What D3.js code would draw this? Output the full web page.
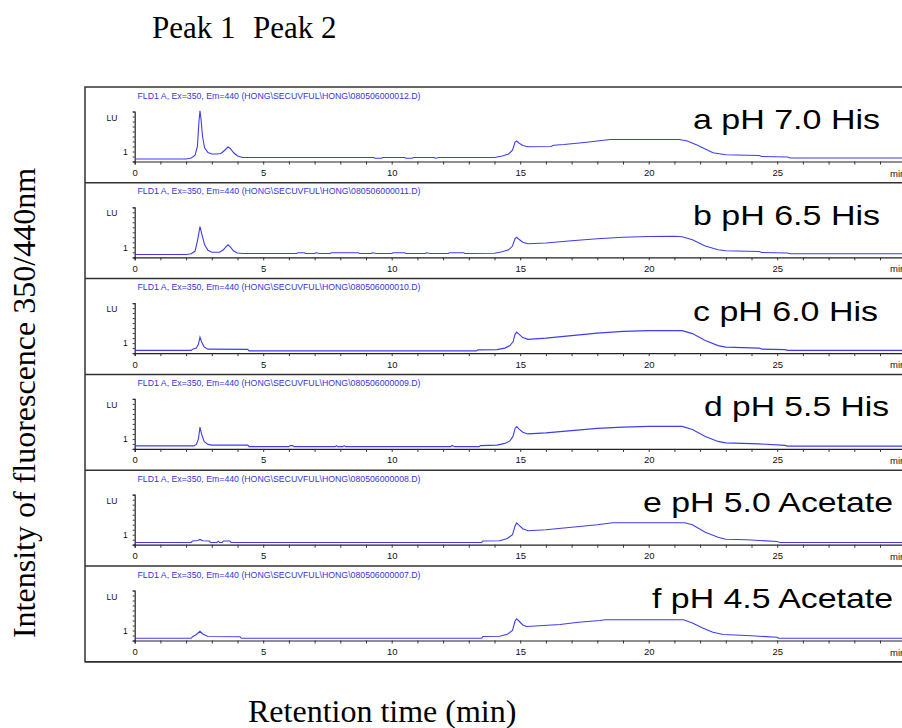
<!DOCTYPE html>
<html>
<head>
<meta charset="utf-8">
<script src="https://cdn.jsdelivr.net/npm/d3@7"></script>
<style>
  body { margin: 0; background: #fff; }
  svg { display: block; }
</style>
</head>
<body>
<div id="chart"></div>
<script>
// ---- data ----
const panelLabels = ["a pH 7.0 His", "b pH 6.5 His", "c pH 6.0 His",
                     "d pH 5.5 His", "e pH 5.0 Acetate", "f pH 4.5 Acetate"];
const fileIds = ["080506000012.D", "080506000011.D", "080506000010.D",
                 "080506000009.D", "080506000008.D", "080506000007.D"];
const timeTicks = [0, 5, 10, 15, 20, 25];
const lumTicks = [1];
const peakNames = ["Peak 1", "Peak 2"];

// [retention time (min), signal (LU)]
const traceA = [[0,0.70],[2.0,0.70],[2.2,0.74],[2.35,0.85],[2.44,1.2],[2.5,2.2],[2.54,2.63],[2.58,2.3],[2.64,1.6],[2.72,1.15],[2.85,0.96],[3.0,0.9],[3.2,0.9],[3.35,0.92],[3.45,1.0],[3.55,1.1],[3.63,1.18],[3.72,1.12],[3.85,0.95],[4.0,0.82],[4.2,0.76],[9.3,0.76],[9.35,0.73],[9.6,0.73],[9.65,0.76],[10.5,0.76],[10.55,0.73],[10.8,0.73],[10.85,0.76],[11.65,0.76],[11.7,0.73],[11.85,0.76],[14.0,0.76],[14.3,0.82],[14.55,0.9],[14.7,1.05],[14.8,1.38],[14.86,1.42],[14.95,1.34],[15.1,1.24],[15.3,1.19],[16.2,1.2],[16.3,1.25],[16.7,1.28],[17.5,1.36],[18.0,1.42],[18.5,1.48],[21.2,1.48],[21.5,1.42],[21.9,1.25],[22.5,0.95],[23.0,0.87],[24.3,0.84],[24.4,0.8],[25.4,0.78],[25.5,0.74],[30,0.74]];
const traceB = [[0,0.71],[2.0,0.71],[2.2,0.74],[2.35,0.85],[2.45,1.3],[2.54,1.83],[2.62,1.5],[2.72,1.1],[2.85,0.88],[3.0,0.8],[3.3,0.8],[3.45,0.9],[3.55,1.02],[3.63,1.1],[3.72,1.02],[3.85,0.85],[4.0,0.77],[4.2,0.75],[6.3,0.75],[6.35,0.78],[6.6,0.78],[6.65,0.75],[7.0,0.75],[7.05,0.78],[7.2,0.75],[7.6,0.75],[7.65,0.78],[8.7,0.78],[8.75,0.75],[9.2,0.75],[9.25,0.78],[9.4,0.75],[10.0,0.75],[10.05,0.78],[10.5,0.78],[10.55,0.75],[11.3,0.75],[11.35,0.78],[11.5,0.75],[12.2,0.75],[12.25,0.78],[12.8,0.78],[12.85,0.75],[14.0,0.76],[14.3,0.82],[14.55,0.9],[14.7,1.05],[14.8,1.35],[14.86,1.4],[14.95,1.32],[15.1,1.2],[15.3,1.14],[16.0,1.17],[17.0,1.26],[18.0,1.34],[19.0,1.4],[20.0,1.43],[21.0,1.44],[21.3,1.42],[21.7,1.3],[22.2,1.05],[22.7,0.9],[23.0,0.86],[24.3,0.83],[24.4,0.79],[25.4,0.77],[25.5,0.74],[30,0.74]];
const traceC = [[0,0.71],[2.2,0.71],[2.25,0.75],[2.4,0.8],[2.48,0.95],[2.54,1.24],[2.6,1.05],[2.7,0.85],[2.85,0.76],[4.4,0.75],[4.45,0.69],[13.3,0.69],[13.35,0.73],[14.1,0.74],[14.4,0.8],[14.6,0.9],[14.72,1.05],[14.8,1.35],[14.86,1.44],[14.95,1.36],[15.1,1.22],[15.3,1.15],[16.0,1.2],[17.0,1.3],[18.0,1.4],[19.0,1.47],[20.0,1.5],[21.3,1.5],[21.7,1.38],[22.2,1.1],[22.7,0.9],[23.0,0.84],[24.3,0.8],[24.4,0.76],[25.3,0.74],[25.4,0.71],[30,0.71]];
const traceD = [[0,0.72],[2.3,0.72],[2.4,0.78],[2.48,1.0],[2.54,1.47],[2.6,1.2],[2.7,0.9],[2.85,0.78],[3.0,0.75],[4.4,0.75],[4.45,0.69],[6.0,0.69],[6.05,0.73],[6.15,0.73],[6.2,0.69],[7.8,0.69],[7.85,0.73],[7.9,0.69],[8.1,0.69],[8.15,0.73],[8.2,0.69],[12.3,0.69],[12.35,0.74],[12.45,0.69],[13.4,0.69],[13.45,0.73],[14.1,0.75],[14.4,0.82],[14.6,0.92],[14.72,1.1],[14.8,1.42],[14.86,1.49],[14.95,1.4],[15.1,1.27],[15.3,1.2],[16.0,1.24],[17.0,1.33],[18.0,1.42],[19.0,1.47],[20.0,1.5],[21.3,1.5],[21.7,1.38],[22.2,1.1],[22.7,0.9],[23.0,0.84],[24.3,0.8],[25.3,0.74],[25.4,0.71],[30,0.71]];
const traceE = [[0,0.69],[2.2,0.69],[2.25,0.75],[2.45,0.77],[2.54,0.81],[2.65,0.76],[2.9,0.75],[2.95,0.69],[3.2,0.69],[3.25,0.74],[3.3,0.69],[3.4,0.69],[3.45,0.75],[3.7,0.75],[3.75,0.69],[13.5,0.69],[13.55,0.75],[14.2,0.76],[14.5,0.85],[14.7,1.0],[14.8,1.35],[14.86,1.47],[14.95,1.38],[15.1,1.24],[15.3,1.16],[16.0,1.2],[17.0,1.3],[18.0,1.4],[18.6,1.48],[21.4,1.48],[21.7,1.4],[22.2,1.1],[22.7,0.9],[23.0,0.82],[23.8,0.8],[25.0,0.73],[25.1,0.69],[30,0.69]];
const traceF = [[0,0.69],[2.2,0.69],[2.25,0.75],[2.4,0.84],[2.54,0.97],[2.65,0.86],[2.85,0.76],[4.1,0.75],[4.15,0.69],[13.5,0.69],[13.55,0.76],[14.2,0.77],[14.5,0.85],[14.7,1.0],[14.8,1.38],[14.86,1.47],[14.95,1.38],[15.1,1.22],[15.25,1.16],[16.55,1.24],[17.26,1.33],[18.1,1.4],[18.3,1.43],[21.35,1.43],[21.7,1.3],[22.1,1.1],[22.5,0.93],[22.9,0.84],[23.8,0.8],[25.0,0.73],[25.05,0.69],[30,0.69]];

const traces = [traceA, traceB, traceC, traceD, traceE, traceF];
// where each big label sits and how wide it is in the picture
const labelStart = [693, 693, 693, 704, 643, 652];
const labelWidth = [187, 187, 185, 185, 250, 241];

const W = 902, H = 728;
const frame = {left: 85, top: 87, right: 930};
const panelH = 95.8;
const lineColor = "#3d3df2";
const textBlue = "#3535e8";
const sans = "'Liberation Sans', Arial, sans-serif";
const serif = "'Liberation Serif', 'Times New Roman', serif";

const svg = d3.select("#chart").append("svg")
    .attr("width", W)
    .attr("height", H);

// shared time scale
const x = d3.scaleLinear()
    .domain([0, 30])
    .range([134.7, 905.7]);

const line = d3.line()
    .x(d => x(d[0]));

traces.forEach((trace, i) => {
    const top = frame.top + i * panelH;
    const axisY = top + 74.5;

    const y = d3.scaleLinear()
        .domain([0.6, 2.6])
        .range([axisY, axisY - 50]);

    const g = svg.append("g").attr("class", "panel");

    // header line
    g.append("text")
        .attr("x", 137.5)
        .attr("y", top + 11.5)
        .attr("textLength", 283)
        .attr("lengthAdjust", "spacingAndGlyphs")
        .style("font", "9.5px " + sans)
        .style("fill", textBlue)
        .text("FLD1 A, Ex=350, Em=440 (HONG\\SECUVFUL\\HONG\\" + fileIds[i] + ")");

    g.append("text")
        .attr("x", 106.5)
        .attr("y", top + 33.5)
        .style("font", "8.5px " + sans)
        .style("fill", "#111")
        .text("LU");

    // x axis
    const xAxis = d3.axisBottom(x)
        .tickValues(d3.range(0, 31, 1))
        .tickSize(3)
        .tickFormat(d => timeTicks.includes(d) ? d : "");

    const gx = g.append("g")
        .attr("transform", `translate(0,${axisY})`)
        .call(xAxis);
    gx.select(".domain").attr("stroke", "#222").attr("stroke-width", 1.2);
    gx.selectAll(".tick line").attr("stroke", "#333");
    gx.selectAll(".tick text")
        .attr("dy", "0.9em")
        .style("font", "9.5px " + sans)
        .style("fill", "#111");

    g.append("text")
        .attr("x", 890)
        .attr("y", axisY + 15)
        .style("font", "9.5px " + sans)
        .style("fill", "#111")
        .text("min");

    // y axis
    const yAxis = d3.axisLeft(y)
        .tickValues(d3.range(0.6, 2.61, 0.2))
        .tickSize(2)
        .tickFormat(d => lumTicks.some(t => Math.abs(t - d) < 1e-6) ? "1" : "");

    const gy = g.append("g")
        .attr("transform", `translate(${x(0)},0)`)
        .call(yAxis);
    gy.select(".domain").attr("stroke", "#222").attr("stroke-width", 1.2);
    gy.selectAll(".tick line").attr("stroke", "#333");
    gy.selectAll(".tick text")
        .attr("x", -7)
        .style("font", "8.5px " + sans)
        .style("fill", "#111");

    // trace
    line.y(d => y(d[1]));
    g.append("path")
        .datum(trace)
        .attr("d", line)
        .attr("fill", "none")
        .attr("stroke", lineColor)
        .attr("stroke-width", 1.1);

    // big label
    g.append("text")
        .attr("x", labelStart[i])
        .attr("y", top + 42)
        .attr("textLength", labelWidth[i])
        .attr("lengthAdjust", "spacingAndGlyphs")
        .style("font", "28px " + sans)
        .style("fill", "#000")
        .text(panelLabels[i]);

    // separator under panel
    g.append("line")
        .attr("x1", frame.left).attr("x2", frame.right)
        .attr("y1", top + panelH).attr("y2", top + panelH)
        .attr("stroke", "#333").attr("stroke-width", 1.5);
});

// outer frame
svg.append("rect")
    .attr("x", frame.left)
    .attr("y", frame.top)
    .attr("width", frame.right - frame.left)
    .attr("height", panelH * 6)
    .attr("fill", "none")
    .attr("stroke", "#333")
    .attr("stroke-width", 1.5);

// outer titles
svg.selectAll(".peak-name")
    .data(peakNames)
    .enter().append("text")
    .attr("class", "peak-name")
    .attr("x", (d, i) => [152, 253][i])
    .attr("y", 38)
    .style("font", "31px " + serif)
    .text(d => d);

svg.append("text")
    .attr("x", 248)
    .attr("y", 722)
    .style("font", "32px " + serif)
    .text("Retention time (min)");

svg.append("text")
    .attr("transform", "translate(35,403) rotate(-90)")
    .attr("text-anchor", "middle")
    .style("font", "32px " + serif)
    .text("Intensity of fluorescence 350/440nm");
</script>
</body>
</html>
